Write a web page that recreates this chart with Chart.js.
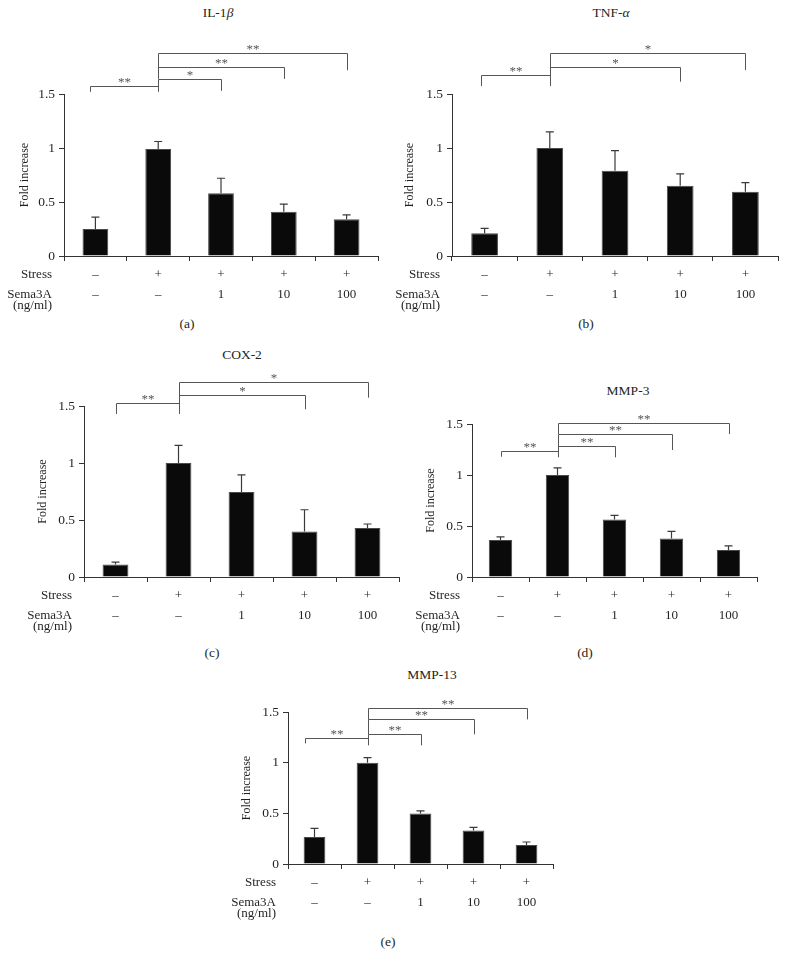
<!DOCTYPE html>
<html>
<head>
<meta charset="utf-8">
<script src="https://cdn.jsdelivr.net/npm/chart.js@4.4.1/dist/chart.umd.min.js"></script>
<style>
  body { margin: 0; background: #fff; width: 786px; height: 966px; position: relative; overflow: hidden;
         font-family: "Liberation Serif", serif; color: #231f20; }
  canvas { position: absolute; }
  .lbl { position: absolute; font-size: 13.5px; line-height: 1; transform: translate(-50%, -50%); white-space: nowrap; }
</style>
</head>
<body>
<div class="lbl" style="left:218px;top:13px">IL-1<i>β</i></div>
<div class="lbl" style="left:611px;top:13px">TNF-<i>α</i></div>
<div class="lbl" style="left:242px;top:355px">COX-2</div>
<div class="lbl" style="left:628px;top:391px">MMP-3</div>
<div class="lbl" style="left:432px;top:675px">MMP-13</div>

<div class="lbl" style="left:187px;top:324px">(a)</div>
<div class="lbl" style="left:586px;top:324px">(b)</div>
<div class="lbl" style="left:212px;top:653px">(c)</div>
<div class="lbl" style="left:585px;top:653px">(d)</div>
<div class="lbl" style="left:388px;top:942px">(e)</div>

<canvas id="chartA"></canvas>
<canvas id="chartB"></canvas>
<canvas id="chartC"></canvas>
<canvas id="chartD"></canvas>
<canvas id="chartE"></canvas>

<script>
"use strict";

// группы и подписи по оси X
const groups = ["Control", "Stress", "Stress + Sema3A 1", "Stress + Sema3A 10", "Stress + Sema3A 100"];
const stressRow = ["–", "+", "+", "+", "+"];
const semaRow = ["–", "–", "1", "10", "100"];
const yTicks = [0, 0.5, 1, 1.5];

// средние значения и SD (Fold increase)
const il1bMean = [0.25, 0.99, 0.58, 0.41, 0.34];
const il1bSd = [0.11, 0.07, 0.14, 0.07, 0.04];
const tnfMean = [0.21, 1.0, 0.79, 0.65, 0.595];
const tnfSd = [0.045, 0.15, 0.185, 0.11, 0.085];
const cox2Mean = [0.11, 1.0, 0.745, 0.4, 0.43];
const cox2Sd = [0.02, 0.155, 0.15, 0.19, 0.035];
const mmp3Mean = [0.363, 1.0, 0.564, 0.377, 0.265];
const mmp3Sd = [0.03, 0.07, 0.04, 0.07, 0.04];
const mmp13Mean = [0.266, 1.0, 0.498, 0.331, 0.187];
const mmp13Sd = [0.085, 0.05, 0.027, 0.03, 0.03];

// значимость: [от, до (индекс группы), уровень, низ ножек, метка]
const il1bSig = [[-0.08, 1, 1.574, 1.52, "**"], [1, 2, 1.636, 1.53, "*"], [1, 3, 1.75, 1.64, "**"], [1, 4, 1.88, 1.72, "**"]];
const tnfSig = [[-0.05, 1, 1.673, 1.574, "**"], [1, 3, 1.753, 1.614, "*"], [1, 4, 1.882, 1.722, "*"]];
const cox2Sig = [[0, 1, 1.524, 1.43, "**"], [1, 3, 1.594, 1.471, "*"], [1, 4, 1.71, 1.573, "*"]];
const mmp3Sig = [[0, 1, 1.232, 1.179, "**"], [1, 2, 1.287, 1.173, "**"], [1, 3, 1.399, 1.245, "**"], [1, 4, 1.507, 1.402, "**"]];
const mmp13Sig = [[-0.175, 1, 1.243, 1.19, "**"], [1, 2, 1.286, 1.171, "**"], [1, 3, 1.427, 1.28, "**"], [1, 4, 1.541, 1.427, "**"]];

const FONT = '"Liberation Serif", serif';
const TEXT = "#231f20";

// положение каждой панели на странице
const panels = [
  { id: "chartA", mean: il1bMean, sd: il1bSd, sig: il1bSig, axisX: 64, right: 378, top: 94, bottom: 256, titleX: 25 },
  { id: "chartB", mean: tnfMean, sd: tnfSd, sig: tnfSig, axisX: 452, right: 778, top: 94, bottom: 256, titleX: 410 },
  { id: "chartC", mean: cox2Mean, sd: cox2Sd, sig: cox2Sig, axisX: 84, right: 398.5, top: 406, bottom: 577.3, titleX: 43.3 },
  { id: "chartD", mean: mmp3Mean, sd: mmp3Sd, sig: mmp3Sig, axisX: 472, right: 757.3, top: 424, bottom: 576.7, titleX: 431.3 },
  { id: "chartE", mean: mmp13Mean, sd: mmp13Sd, sig: mmp13Sig, axisX: 288.3, right: 553.3, top: 712, bottom: 864.3, titleX: 246.7 },
];

panels.forEach((p) => makePanel(p));

function makePanel(p) {
  const padTop = 70, padRight = 20, xAxisH = 62;
  const scaleLeft = p.titleX - 6;
  const left = Math.max(0, Math.min(scaleLeft - 4, p.axisX - 66));
  const padLeft = scaleLeft - left;
  const canvas = document.getElementById(p.id);
  canvas.width = Math.round(p.right + padRight - left);
  canvas.height = Math.round(padTop + (p.bottom - p.top) + xAxisH);
  canvas.style.left = left + "px";
  canvas.style.top = (p.top - padTop) + "px";
  const yAxisW = p.axisX - scaleLeft;

  // планки погрешностей (только вверх)
  const errorBars = {
    id: "errorBars",
    afterDatasetsDraw(chart) {
      const { ctx, scales: { y } } = chart;
      ctx.save();
      ctx.strokeStyle = "#3a3a3a";
      ctx.lineWidth = 1.2;
      chart.getDatasetMeta(0).data.forEach((bar, i) => {
        const top = y.getPixelForValue(p.mean[i] + p.sd[i]);
        ctx.beginPath();
        ctx.moveTo(bar.x, bar.y);
        ctx.lineTo(bar.x, top);
        ctx.moveTo(bar.x - 4, top);
        ctx.lineTo(bar.x + 4, top);
        ctx.stroke();
      });
      ctx.restore();
    },
  };

  // скобки со звёздочками
  const brackets = {
    id: "brackets",
    afterDraw(chart) {
      const { ctx, scales: { x, y } } = chart;
      ctx.save();
      ctx.strokeStyle = "#555";
      ctx.lineWidth = 1;
      ctx.fillStyle = "#555";
      ctx.font = "13px " + FONT;
      ctx.textAlign = "center";
      ctx.textBaseline = "alphabetic";
      p.sig.forEach(([a, b, level, low, mark]) => {
        const xa = Math.round(x.getPixelForValue(a)) + 0.5;
        const xb = Math.round(x.getPixelForValue(b)) + 0.5;
        const yl = Math.round(y.getPixelForValue(level)) + 0.5;
        const yLow = y.getPixelForValue(low);
        ctx.beginPath();
        ctx.moveTo(xa, yLow);
        ctx.lineTo(xa, yl);
        ctx.lineTo(xb, yl);
        ctx.lineTo(xb, yLow);
        ctx.stroke();
        ctx.fillText(mark, (xa + xb) / 2, yl - 0.5);
      });
      ctx.restore();
    },
  };

  // подписи строк слева от оси X
  const rowLabels = {
    id: "rowLabels",
    afterDraw(chart) {
      const { ctx, chartArea } = chart;
      ctx.save();
      ctx.fillStyle = TEXT;
      ctx.font = "13px " + FONT;
      ctx.textAlign = "right";
      ctx.textBaseline = "middle";
      const xr = chartArea.left - 12;
      ctx.fillText("Stress", xr, chartArea.bottom + 18.7);
      ctx.fillText("Sema3A", xr, chartArea.bottom + 38.2);
      ctx.fillText("(ng/ml)", xr, chartArea.bottom + 50);
      ctx.restore();
    },
  };

  new Chart(canvas, {
    type: "bar",
    data: {
      labels: groups.map((g, i) => [stressRow[i], semaRow[i]]),
      datasets: [
        {
          label: "Fold increase",
          data: p.mean,
          backgroundColor: "#0a0a0a",
          borderColor: "#4a4a4a",
          borderWidth: 1,
          barPercentage: 0.41,
          categoryPercentage: 1,
        },
      ],
    },
    options: {
      responsive: false,
      animation: false,
      layout: { padding: { top: padTop, right: padRight, left: padLeft, bottom: 0 } },
      plugins: { legend: { display: false }, tooltip: { enabled: false } },
      scales: {
        x: {
          offset: true,
          afterFit(s) { s.height = xAxisH; },
          grid: { offset: true, drawOnChartArea: false, tickLength: 5, color: "#333" },
          border: { color: "#333", width: 1 },
          ticks: { color: TEXT, padding: 4, font: { family: FONT, size: 13, lineHeight: 1.5 }, maxRotation: 0, autoSkip: false },
        },
        y: {
          min: 0,
          max: 1.5,
          afterFit(s) { s.width = yAxisW; },
          afterBuildTicks(s) { s.ticks = yTicks.map((v) => ({ value: v })); },
          grid: { drawOnChartArea: false, tickLength: 5, color: "#333" },
          border: { color: "#333", width: 1 },
          ticks: { color: TEXT, padding: 4, font: { family: FONT, size: 13.5 }, callback: (v) => String(v) },
          title: { display: true, text: "Fold increase", color: TEXT, padding: 0, font: { family: FONT, size: 12, lineHeight: 1 } },
        },
      },
    },
    plugins: [errorBars, brackets, rowLabels],
  });
}
</script>
</body>
</html>
